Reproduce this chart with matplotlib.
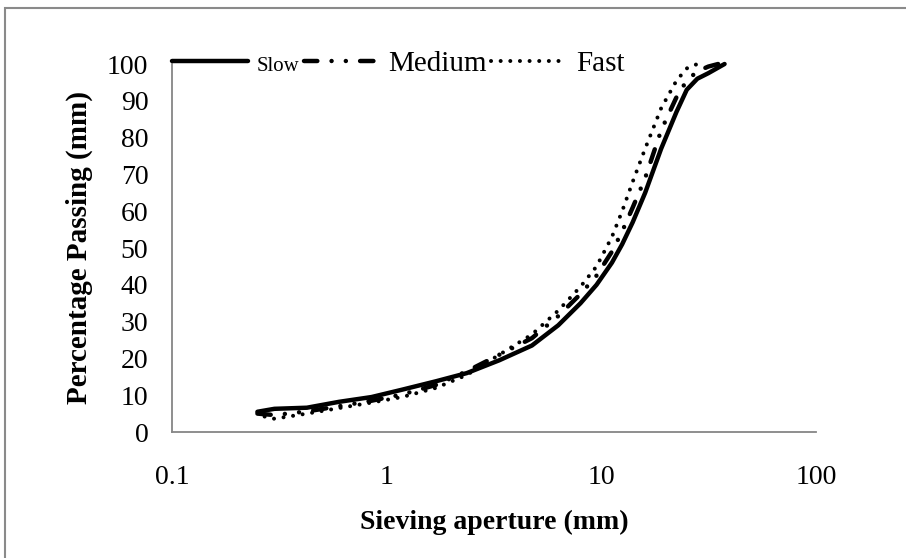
import matplotlib
matplotlib.use("Agg")
import matplotlib.pyplot as plt
from matplotlib.patches import Rectangle

plt.rcParams['font.family'] = ['Liberation Serif', 'DejaVu Serif']

# sieve sizes (mm) and percentage passing for each cooling rate
slow_x = [0.25, 0.3, 0.425, 0.6, 0.85, 1.18, 1.7, 2.36, 3.35, 4.75, 6.3, 8.0, 9.5,
          11.2, 12.5, 14, 16, 19, 22.4, 25, 28, 31.5, 37.5]
slow_y = [5.5, 6.3, 6.6, 8.2, 9.5, 11.5, 13.8, 16.0, 19.5, 23.5, 29.0, 35.0, 40.0,
          46.0, 51.0, 57.0, 65.0, 77.0, 87.0, 93.0, 96.0, 97.5, 100.0]

medium_x = [0.25, 0.3, 0.425, 0.6, 0.85, 1.18, 1.7, 2.36, 3.35, 4.75, 6.3, 8.0, 9.5,
            11.2, 12.5, 14, 16, 19, 22.4, 25, 28, 31.5, 35]
medium_y = [5.0, 4.6, 5.6, 7.0, 8.5, 10.2, 12.8, 16.5, 21.0, 25.5, 31.5, 37.5, 42.5,
            49.0, 54.5, 61.0, 69.0, 82.0, 91.0, 95.5, 98.0, 99.3, 100.0]

fast_x = [0.27, 0.3, 0.425, 0.6, 0.85, 1.18, 1.7, 2.36, 3.35, 4.75, 6.3, 8.0, 9.5,
          11.2, 12.5, 14, 16, 19, 22.4, 25, 28]
fast_y = [4.2, 3.6, 5.0, 6.5, 8.0, 9.5, 12.0, 15.5, 21.0, 26.5, 33.0, 39.5, 45.0,
          53.0, 60.0, 68.0, 77.0, 88.0, 95.5, 98.8, 100.0]

x_ticks = [0.1, 1, 10, 100]
x_labels = ['0.1', '1', '10', '100']
y_ticks = list(range(0, 101, 10))

fig = plt.figure(figsize=(9.06, 5.58), dpi=100)
ax = fig.add_axes([172/906, 1 - 432/558, (816 - 172)/906, (432 - 64)/558])

# outer frame, only left and top edges show in the reference
fig.patches.append(Rectangle((5/906, -0.1), 1.2, 1.1 - 8/558, transform=fig.transFigure,
                             fill=False, edgecolor='#8a8a8a', linewidth=1.5))

lw = 3.2
ax.plot(slow_x, slow_y, color='black', lw=lw, solid_capstyle='round',
        solid_joinstyle='round', clip_on=False, label='Slow')
ax.plot(medium_x, medium_y, color='black', lw=lw, dashes=(3, 3.2, 0.01, 3.2, 0.01, 3.2),
        dash_capstyle='round', clip_on=False, label='Medium')
ax.plot(fast_x, fast_y, color='black', lw=lw * 0.9, dashes=(0.01, 2.4),
        dash_capstyle='round', clip_on=False, label='Fast')

ax.set_xscale('log')
ax.set_xlim(0.1, 100)
ax.set_ylim(0, 100)
ax.set_xticks(x_ticks)
ax.set_xticklabels(x_labels)
ax.xaxis.set_minor_locator(matplotlib.ticker.NullLocator())
ax.set_yticks(y_ticks)
ax.tick_params(axis='both', length=0, labelsize=20)
ax.tick_params(axis='x', pad=24)
ax.tick_params(axis='y', pad=17)

for s in ['top', 'right']:
    ax.spines[s].set_visible(False)
for s in ['left', 'bottom']:
    ax.spines[s].set_color('#868686')
    ax.spines[s].set_linewidth(1.3)

ax.set_xlabel('Sieving aperture (mm)', fontsize=20, fontweight='bold', labelpad=14)
ax.set_ylabel('Percentage Passing (mm)', fontsize=21, fontweight='bold', labelpad=10)

leg = ax.legend(loc='center left', bbox_to_anchor=(0, 1.0), ncol=3, frameon=False,
                fontsize=21, handlelength=2.6, handletextpad=0.3, columnspacing=0.15,
                borderpad=0, borderaxespad=0)
leg.get_texts()[0].set_fontsize(15)

fig.savefig('out.png', dpi=100)
